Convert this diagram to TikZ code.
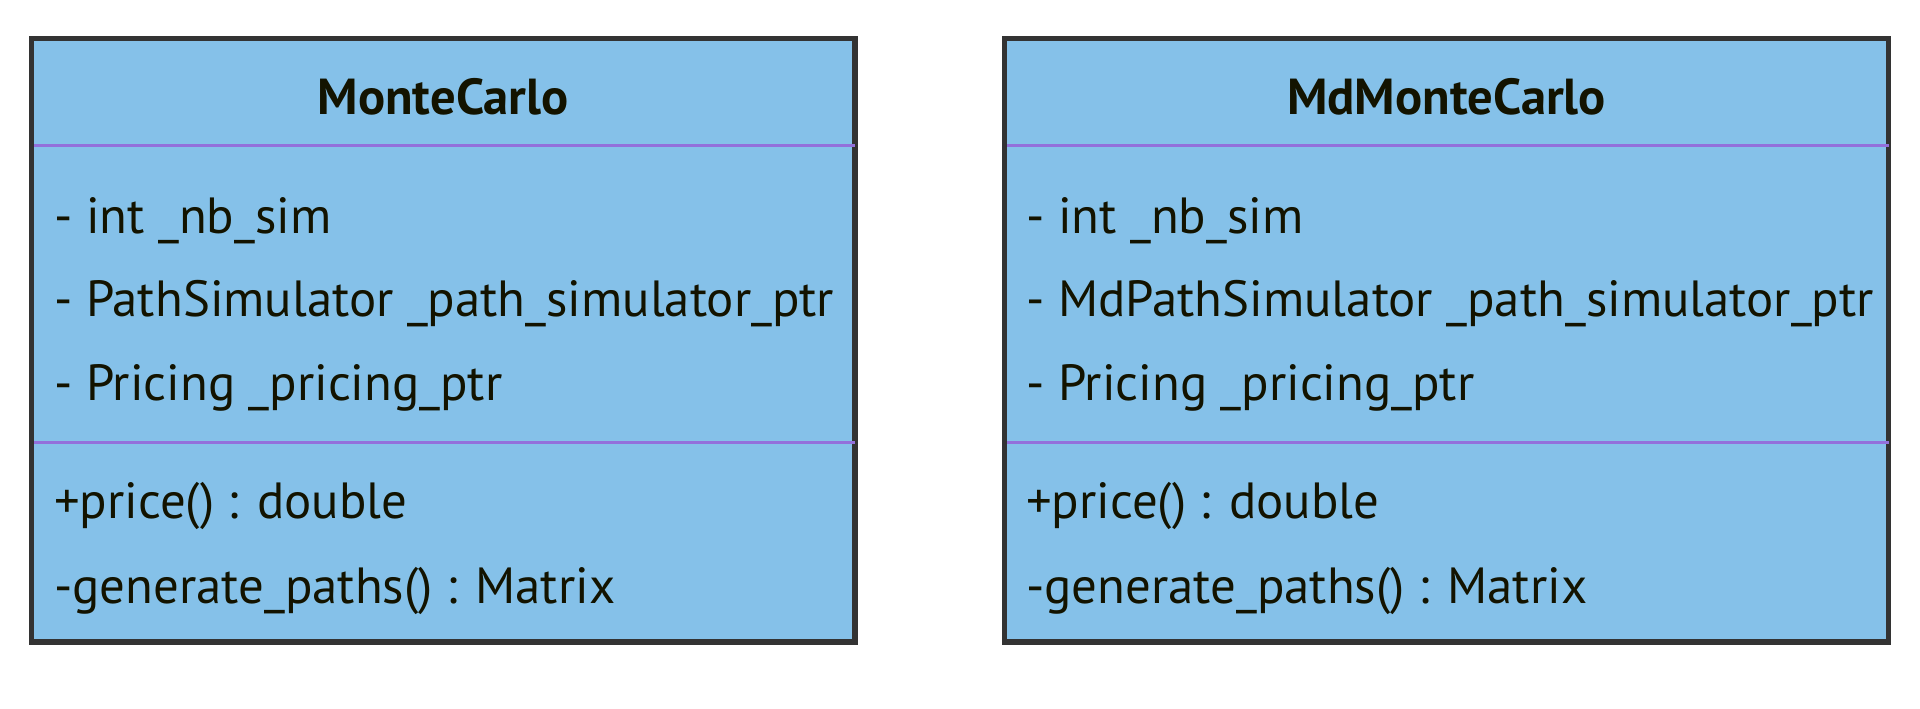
\documentclass[tikz,border=0pt]{standalone}
\usepackage{fontspec}
\newfontfamily\uifont{PT Sans}
\definecolor{boxfill}{HTML}{85C1E9}
\definecolor{boxline}{HTML}{333333}
\definecolor{divline}{HTML}{9370DB}
\definecolor{txt}{HTML}{131300}
\newlength\meas
\newlength\measb
\AtBeginDocument{%
  \settowidth\meas{\uifont\fontsize{10pt}{12pt}\selectfont - PathSimulator \_path\_simulator\_ptr}%
  \settowidth\measb{\uifont\bfseries\fontsize{10pt}{12pt}\selectfont MonteCarlo}%
  \pgfmathsetmacro\bodysize{10*780/\meas}%
  \pgfmathsetmacro\titlesize{10*251/\measb}%
  \xdef\bodysize{\bodysize}%
  \xdef\titlesize{\titlesize}%
}
\begin{document}
\begin{tikzpicture}[x=1pt,y=-1pt,
  member/.style={anchor=base west, inner sep=0pt, text=txt,
    font=\uifont\fontsize{\bodysize pt}{\bodysize pt}\selectfont},
  classtitle/.style={anchor=base, inner sep=0pt, text=txt,
    font=\uifont\bfseries\fontsize{\titlesize pt}{\titlesize pt}\selectfont},
  classbox/.style={draw=boxline, fill=boxfill, line width=5.5pt,
    anchor=north west, inner sep=0pt, outer sep=0pt, minimum height=603.5pt},
  divider/.style={draw=divline, line width=2.5pt}]
\useasboundingbox (0,0) rectangle (1920,709);
\fill[white] (0,0) rectangle (1920,709);

% MonteCarlo
\node[classbox, minimum width=823.5pt] (mc) at (31.5,38.5) {};
\draw[divider] ([xshift=2.75pt,yshift=-107pt]mc.north west) -- ([yshift=-107pt]mc.north east);
\draw[divider] ([xshift=2.75pt,yshift=-404pt]mc.north west) -- ([yshift=-404pt]mc.north east);
\node[classtitle] (mct) at (443.25,114.3) {MonteCarlo};
\node[member] (mca1) at (54,233.3) {- int \_nb\_sim};
\node[member] (mca2) at (54,316.7) {- PathSimulator \_path\_simulator\_ptr};
\node[member] (mca3) at (54,400) {- Pricing \_pricing\_ptr};
\node[member] (mcm1) at (54,518.3) {+price() : double};
\node[member] (mcm2) at (54,603.3) {-generate\_paths() : Matrix};

% MdMonteCarlo
\node[classbox, minimum width=884pt] (md) at (1004.5,38.5) {};
\draw[divider] ([xshift=2.75pt,yshift=-107pt]md.north west) -- ([yshift=-107pt]md.north east);
\draw[divider] ([xshift=2.75pt,yshift=-404pt]md.north west) -- ([yshift=-404pt]md.north east);
\node[classtitle] (mdt) at (1446.5,114.3) {MdMonteCarlo};
\node[member] (mda1) at (1026,233.3) {- int \_nb\_sim};
\node[member] (mda2) at (1026,316.7) {- MdPathSimulator \_path\_simulator\_ptr};
\node[member] (mda3) at (1026,400) {- Pricing \_pricing\_ptr};
\node[member] (mdm1) at (1026,518.3) {+price() : double};
\node[member] (mdm2) at (1026,603.3) {-generate\_paths() : Matrix};
\end{tikzpicture}
\end{document}
